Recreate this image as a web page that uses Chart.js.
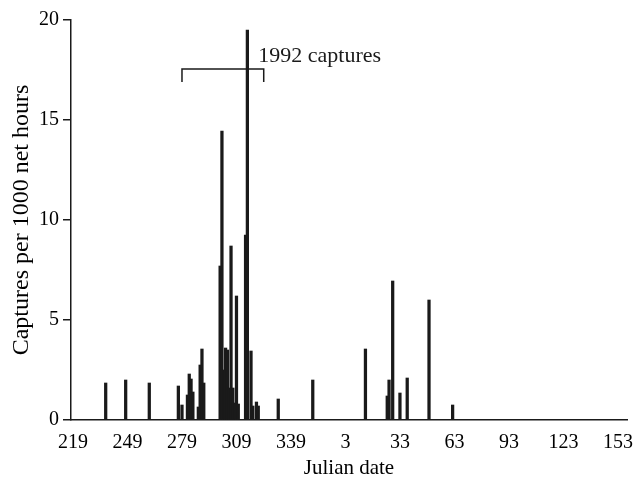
<!DOCTYPE html>
<html>
<head>
<meta charset="utf-8">
<script src="https://cdn.jsdelivr.net/npm/chart.js@4.4.0/dist/chart.umd.min.js"></script>
<style>
  body { margin: 0; background: #fff; }
  #wrap { width: 643px; height: 481px; }
</style>
</head>
<body>
<div id="wrap"><canvas id="id1" width="643" height="481"></canvas></div>
<script>
    'use strict'

    // julian dates of capture nights (after day 366 the season wraps into the next year)
    var dates = [237, 248, 261, 277, 279, 282, 283, 284, 285, 288, 289, 290, 291,
                 300, 301, 302, 303, 304, 305, 306, 307, 308, 309, 310,
                 314, 315, 317, 318, 320, 321, 332, 351,
                 14, 26, 27, 29, 33, 37, 49, 62];
    // captures per 1000 net hours
    var captures = [1.85, 2.0, 1.85, 1.7, 0.75, 1.25, 2.3, 2.05, 1.4, 0.65, 2.75, 3.55, 1.85,
                    7.7, 14.45, 2.5, 3.6, 3.5, 1.6, 8.7, 1.6, 0.85, 6.2, 0.8,
                    9.25, 19.5, 3.45, 0.7, 0.9, 0.7, 1.05, 2.0,
                    3.55, 1.2, 2.0, 6.95, 1.35, 2.1, 6.0, 0.75];
    var tickDates = [219, 249, 279, 309, 339, 3, 33, 63, 93, 123, 153];
    var bracketDates = [279, 324];

    var yearLen = 366; // 1992 leap year
    function toIndex(d) { return d < 200 ? d + yearLen : d; }

    var points = dates.map(function (d, i) { return { x: toIndex(d), y: captures[i] }; });
    var serif = "'Liberation Serif', 'DejaVu Serif', serif";
    var ink = '#1a1a1a';

    var bracketPlugin = {
        id: 'bracket',
        afterDraw: function (chart) {
            var ctx = chart.ctx;
            var xs = chart.scales.x, ys = chart.scales.y;
            var x1 = xs.getPixelForValue(toIndex(bracketDates[0]));
            var x2 = xs.getPixelForValue(toIndex(bracketDates[1]));
            var yTop = ys.getPixelForValue(17.55);
            var yBot = ys.getPixelForValue(16.9);
            ctx.save();
            ctx.strokeStyle = ink;
            ctx.lineWidth = 1.5;
            ctx.beginPath();
            ctx.moveTo(x1, yBot);
            ctx.lineTo(x1, yTop);
            ctx.lineTo(x2, yTop);
            ctx.lineTo(x2, yBot);
            ctx.stroke();
            ctx.fillStyle = ink;
            ctx.font = '22px ' + serif;
            ctx.textAlign = 'left';
            ctx.textBaseline = 'alphabetic';
            ctx.fillText('1992 captures', xs.getPixelForValue(321), ys.getPixelForValue(17.9));
            ctx.restore();
        }
    };

    var ctxD3 = document.getElementById('id1').getContext('2d');
    var myChart = new Chart(ctxD3, {
        type: 'bar',
        data: {
            datasets: [{
                data: points,
                backgroundColor: ink,
                borderWidth: 0,
                barThickness: 2.6
            }]
        },
        plugins: [bracketPlugin],
        options: {
            responsive: false,
            animation: false,
            layout: { padding: { top: 20, right: 16, left: 0, bottom: 0 } },
            plugins: { legend: { display: false }, tooltip: { enabled: false } },
            scales: {
                x: {
                    type: 'linear',
                    offset: false,
                    min: 217.9,
                    max: 524,
                    afterBuildTicks: function (scale) {
                        scale.ticks = tickDates.map(function (d) { return { value: toIndex(d) }; });
                    },
                    afterFit: function (scale) { scale.height = 61; },
                    grid: { display: false, offset: false },
                    border: { color: ink, width: 1.5 },
                    ticks: {
                        color: '#000',
                        font: { family: serif, size: 20 },
                        maxRotation: 0,
                        autoSkip: false,
                        padding: 3,
                        callback: function (v) { return v > yearLen ? v - yearLen : v; }
                    },
                    title: {
                        display: true,
                        text: 'Julian date',
                        color: '#000',
                        font: { family: serif, size: 21 },
                        padding: { top: 2, bottom: 0 }
                    }
                },
                y: {
                    min: 0,
                    max: 20,
                    afterFit: function (scale) { scale.width = 71; },
                    grid: { drawOnChartArea: false, drawTicks: true, tickLength: 8, color: ink, lineWidth: 1.5 },
                    border: { color: ink, width: 1.5 },
                    ticks: {
                        stepSize: 5,
                        color: '#000',
                        font: { family: serif, size: 20 },
                        padding: 4
                    },
                    title: {
                        display: true,
                        text: 'Captures per 1000 net hours',
                        color: '#000',
                        font: { family: serif, size: 24 },
                        padding: { top: 7, bottom: 0 }
                    }
                }
            }
        }
    });
</script>
</body>
</html>
